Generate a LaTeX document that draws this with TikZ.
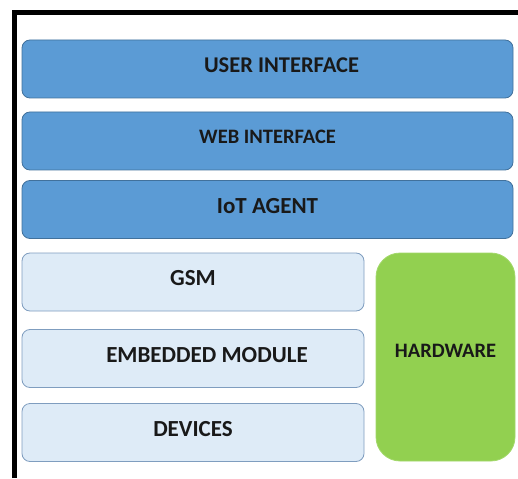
\documentclass[tikz,border=0pt]{standalone}
\usepackage{fontspec}
\setmainfont{Carlito}
\definecolor{layerblue}{HTML}{5B9BD5}
\definecolor{layeredge}{HTML}{41719C}
\definecolor{lightfill}{HTML}{DEEBF7}
\definecolor{lightedge}{HTML}{7F9DBF}
\definecolor{hwgreen}{HTML}{92D050}
\definecolor{hwedge}{HTML}{A2D86A}
\begin{document}
\begin{tikzpicture}[x=1pt,y=-1pt,
	every node/.style={font=\bfseries,text=black!90,text depth=8pt},
	toplayer/.style={draw=layeredge,fill=layerblue,line width=0.8pt,rounded corners=8pt,minimum width=491pt,minimum height=58pt,inner sep=0pt},
	lowlayer/.style={draw=lightedge,fill=lightfill,line width=0.8pt,rounded corners=8pt,minimum width=342pt,minimum height=58pt,inner sep=0pt},
	hwblock/.style={draw=hwedge,fill=hwgreen,line width=0.8pt,rounded corners=24pt,minimum width=139pt,minimum height=208pt,inner sep=0pt,text depth=12pt}]
	\useasboundingbox (0,0) rectangle (518,478);
	% frame
	\draw[line width=5pt] (14.5,478) -- (14.5,13) -- (518,13);
	% upper layers
	\node[toplayer] (user) at (267.5,69) {\fontsize{22.5}{26}\selectfont\hspace*{28pt}USER INTERFACE};
	\node[toplayer] (web) at (267.5,141) {\fontsize{20.5}{24}\selectfont WEB INTERFACE};
	\node[toplayer] (agent) at (267.5,209.5) {\fontsize{23}{27}\selectfont IoT AGENT};
	% lower layers
	\node[lowlayer] (gsm) at (193,282) {\fontsize{23}{27}\selectfont GSM};
	\node[lowlayer] (embedded) at (193,358.5) {\fontsize{23}{27}\selectfont\hspace*{28pt}EMBEDDED MODULE};
	\node[lowlayer] (devices) at (193,432.5) {\fontsize{23}{27}\selectfont DEVICES};
	\node[hwblock] (hardware) at (445.5,357) {\fontsize{20.5}{24}\selectfont HARDWARE};
\end{tikzpicture}
\end{document}
